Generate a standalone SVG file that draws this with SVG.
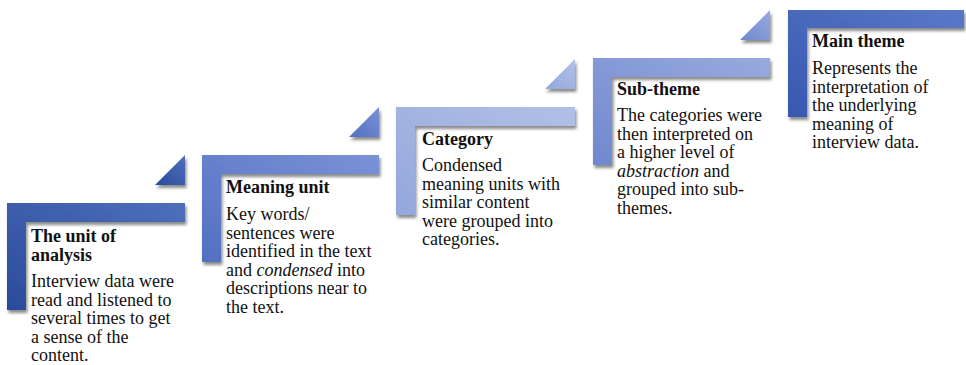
<svg xmlns="http://www.w3.org/2000/svg" width="966" height="365" viewBox="0 0 966 365">
<defs>
<filter id="sh" x="-10%" y="-10%" width="130%" height="140%">
<feDropShadow dx="1.5" dy="3" stdDeviation="1.8" flood-color="#000" flood-opacity="0.45"/>
</filter>
<linearGradient id="g1" x1="1" y1="0" x2="0" y2="1"><stop offset="0" stop-color="#4f6fba"/><stop offset="1" stop-color="#2a4b9c"/></linearGradient>
<linearGradient id="g2" x1="1" y1="0" x2="0" y2="1"><stop offset="0" stop-color="#7a92d6"/><stop offset="1" stop-color="#5270c2"/></linearGradient>
<linearGradient id="g3" x1="1" y1="0" x2="0" y2="1"><stop offset="0" stop-color="#b2c0e6"/><stop offset="1" stop-color="#93a7dc"/></linearGradient>
<linearGradient id="g4" x1="1" y1="0" x2="0" y2="1"><stop offset="0" stop-color="#98aade"/><stop offset="1" stop-color="#7088cf"/></linearGradient>
<linearGradient id="g5" x1="1" y1="0" x2="0" y2="1"><stop offset="0" stop-color="#5a78c8"/><stop offset="1" stop-color="#3758b0"/></linearGradient>
<style>
text{font-family:"Liberation Serif","Times New Roman",serif;font-size:18px;fill:#111}
.t{font-weight:bold}
.s{filter:url(#sh)}
</style>
</defs>
<g id="step1">
<path class="s" fill="url(#g1)" d="M7,203H185V222H26V310H7Z"/>
<path class="s" fill="url(#g1)" d="M155,185L185,155V185Z"/>
<text class="t" x="31" y="241.5">The unit of</text>
<text class="t" x="31" y="261">analysis</text>
<text x="31" y="287">Interview data were</text>
<text x="31" y="305.5">read and listened to</text>
<text x="31" y="324">several times to get</text>
<text x="31" y="342.5">a sense of the</text>
<text x="31" y="361">content.</text>
</g>
<g id="step2">
<path class="s" fill="url(#g2)" d="M202,155H379V174H221V262H202Z"/>
<path class="s" fill="url(#g2)" d="M349,137L379,107V137Z"/>
<text class="t" x="226" y="193">Meaning unit</text>
<text x="226" y="220">Key words/</text>
<text x="226" y="238.5">sentences were</text>
<text x="226" y="257">identified in the text</text>
<text x="226" y="275.5">and <tspan font-style="italic">condensed</tspan> into</text>
<text x="226" y="294">descriptions near to</text>
<text x="226" y="312.5">the text.</text>
</g>
<g id="step3">
<path class="s" fill="url(#g3)" d="M396,107H575V126H415V215H396Z"/>
<path class="s" fill="url(#g3)" d="M545,89L575,59V89Z"/>
<text class="t" x="422" y="145">Category</text>
<text x="422" y="171">Condensed</text>
<text x="422" y="189.5">meaning units with</text>
<text x="422" y="208">similar content</text>
<text x="422" y="226.5">were grouped into</text>
<text x="422" y="245">categories.</text>
</g>
<g id="step4">
<path class="s" fill="url(#g4)" d="M593,58H770V77H612V165H593Z"/>
<path class="s" fill="url(#g4)" d="M740,40L770,10V40Z"/>
<text class="t" x="617" y="95">Sub-theme</text>
<text x="617" y="121">The categories were</text>
<text x="617" y="139.5">then interpreted on</text>
<text x="617" y="158">a higher level of</text>
<text x="617" y="176.5"><tspan font-style="italic">abstraction</tspan> and</text>
<text x="617" y="195">grouped into sub-</text>
<text x="617" y="213.5">themes.</text>
</g>
<g id="step5">
<path class="s" fill="url(#g5)" d="M788,10H964V28H807V117H788Z"/>
<text class="t" x="812" y="47">Main theme</text>
<text x="812" y="74">Represents the</text>
<text x="812" y="92.5">interpretation of</text>
<text x="812" y="111">the underlying</text>
<text x="812" y="129.5">meaning of</text>
<text x="812" y="148">interview data.</text>
</g>
<g id="connectors"/>
</svg>
